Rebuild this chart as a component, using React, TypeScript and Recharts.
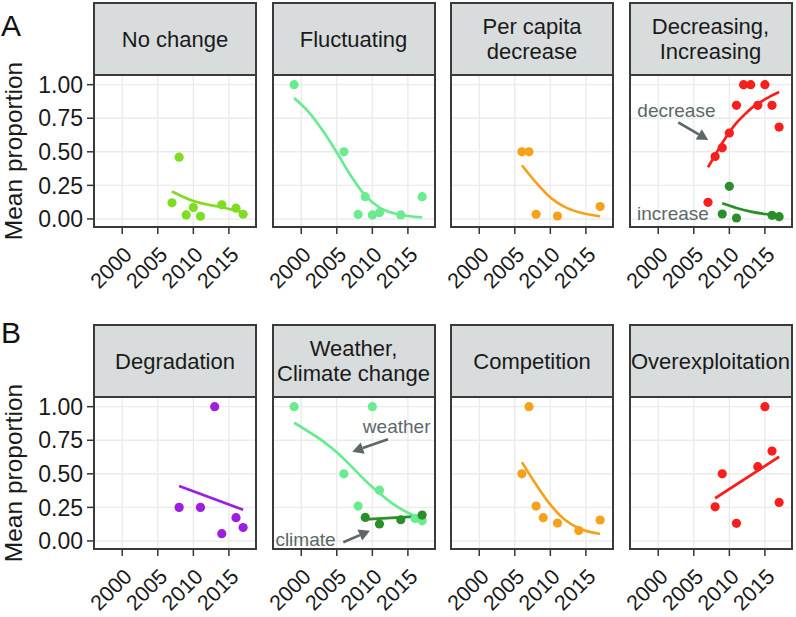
import React from 'react';
import { ComposedChart, Scatter, Line, XAxis, YAxis, CartesianGrid, ReferenceLine, ReferenceDot } from 'recharts';

type Pt = { year: number; value: number };

const yearTicks = [2000, 2005, 2010, 2015];
const proportionTicks = [0, 0.25, 0.5, 0.75, 1];

// A: population trend groups
const noChangePoints: Pt[] = [
  { year: 2007, value: 0.12 }, { year: 2008, value: 0.46 }, { year: 2009, value: 0.03 },
  { year: 2010, value: 0.085 }, { year: 2011, value: 0.02 }, { year: 2014, value: 0.105 },
  { year: 2016, value: 0.08 }, { year: 2017, value: 0.035 },
];
const noChangeFit: Pt[] = [
  { year: 2007, value: 0.205 }, { year: 2010, value: 0.133 }, { year: 2014, value: 0.087 }, { year: 2017, value: 0.05 },
];

const fluctuatingPoints: Pt[] = [
  { year: 1999, value: 1.0 }, { year: 2006, value: 0.5 }, { year: 2008, value: 0.034 },
  { year: 2009, value: 0.166 }, { year: 2010, value: 0.03 }, { year: 2011, value: 0.047 },
  { year: 2014, value: 0.03 }, { year: 2017, value: 0.166 },
];
const fluctuatingFit: Pt[] = [
  { year: 1999, value: 0.9 }, { year: 2001, value: 0.8 }, { year: 2003, value: 0.66 },
  { year: 2005, value: 0.495 }, { year: 2007, value: 0.32 }, { year: 2009, value: 0.175 },
  { year: 2011, value: 0.085 }, { year: 2013, value: 0.043 }, { year: 2015, value: 0.022 }, { year: 2017, value: 0.012 },
];

const perCapitaPoints: Pt[] = [
  { year: 2006, value: 0.5 }, { year: 2007, value: 0.5 }, { year: 2008, value: 0.035 },
  { year: 2011, value: 0.022 }, { year: 2017, value: 0.092 },
];
const perCapitaFit: Pt[] = [
  { year: 2006, value: 0.4 }, { year: 2008, value: 0.27 }, { year: 2010, value: 0.16 },
  { year: 2012, value: 0.09 }, { year: 2014, value: 0.05 }, { year: 2017, value: 0.02 },
];

const decreasingPoints: Pt[] = [
  { year: 2007, value: 0.124 }, { year: 2008, value: 0.465 }, { year: 2009, value: 0.53 },
  { year: 2010, value: 0.64 }, { year: 2011, value: 0.846 }, { year: 2012, value: 1.0 },
  { year: 2013, value: 1.0 }, { year: 2014, value: 0.846 }, { year: 2015, value: 1.0 },
  { year: 2016, value: 0.846 }, { year: 2017, value: 0.684 },
];
const decreasingFit: Pt[] = [
  { year: 2007, value: 0.385 }, { year: 2008, value: 0.475 }, { year: 2009, value: 0.565 },
  { year: 2010, value: 0.646 }, { year: 2011, value: 0.715 }, { year: 2012, value: 0.77 },
  { year: 2013, value: 0.82 }, { year: 2014, value: 0.858 }, { year: 2015, value: 0.89 },
  { year: 2016, value: 0.92 }, { year: 2017, value: 0.945 },
];

const increasingPoints: Pt[] = [
  { year: 2009, value: 0.037 }, { year: 2010, value: 0.243 }, { year: 2011, value: 0.007 },
  { year: 2016, value: 0.027 }, { year: 2017, value: 0.017 },
];
const increasingFit: Pt[] = [
  { year: 2009, value: 0.117 }, { year: 2011, value: 0.082 }, { year: 2013, value: 0.055 },
  { year: 2015, value: 0.037 }, { year: 2017, value: 0.025 },
];

// B: drivers
const degradationPoints: Pt[] = [
  { year: 2008, value: 0.25 }, { year: 2011, value: 0.25 }, { year: 2013, value: 1.0 },
  { year: 2014, value: 0.054 }, { year: 2016, value: 0.173 }, { year: 2017, value: 0.1 },
];
const degradationFit: Pt[] = [{ year: 2008, value: 0.41 }, { year: 2017, value: 0.232 }];

const weatherPoints: Pt[] = [
  { year: 1999, value: 1.0 }, { year: 2006, value: 0.5 }, { year: 2008, value: 0.26 },
  { year: 2010, value: 1.0 }, { year: 2011, value: 0.378 }, { year: 2016, value: 0.168 }, { year: 2017, value: 0.15 },
];
const weatherFit: Pt[] = [
  { year: 1999, value: 0.88 }, { year: 2001, value: 0.815 }, { year: 2003, value: 0.745 },
  { year: 2005, value: 0.66 }, { year: 2007, value: 0.558 }, { year: 2009, value: 0.45 },
  { year: 2011, value: 0.355 }, { year: 2013, value: 0.272 }, { year: 2015, value: 0.21 }, { year: 2017, value: 0.165 },
];

const climatePoints: Pt[] = [
  { year: 2009, value: 0.175 }, { year: 2011, value: 0.126 }, { year: 2014, value: 0.158 }, { year: 2017, value: 0.193 },
];
const climateFit: Pt[] = [{ year: 2009, value: 0.16 }, { year: 2017, value: 0.185 }];

const competitionPoints: Pt[] = [
  { year: 2006, value: 0.5 }, { year: 2007, value: 1.0 }, { year: 2008, value: 0.26 },
  { year: 2009, value: 0.173 }, { year: 2011, value: 0.133 }, { year: 2014, value: 0.077 }, { year: 2017, value: 0.156 },
];
const competitionFit: Pt[] = [
  { year: 2006, value: 0.587 }, { year: 2008, value: 0.42 }, { year: 2010, value: 0.27 },
  { year: 2012, value: 0.16 }, { year: 2014, value: 0.095 }, { year: 2016, value: 0.062 }, { year: 2017, value: 0.052 },
];

const overexploitationPoints: Pt[] = [
  { year: 2008, value: 0.254 }, { year: 2009, value: 0.5 }, { year: 2011, value: 0.131 },
  { year: 2014, value: 0.553 }, { year: 2015, value: 1.0 }, { year: 2016, value: 0.669 }, { year: 2017, value: 0.287 },
];
const overexploitationFit: Pt[] = [{ year: 2008, value: 0.318 }, { year: 2017, value: 0.627 }];

// annotations (data coords)
const decreaseNote = { text: 'decrease', year: 2002.56, value: 0.811 };
const increaseNote = { text: 'increase', year: 2002.07, value: 0.044 };
const decreaseArrow = { from: { year: 2002.81, value: 0.72 }, to: { year: 2007.03, value: 0.588 } };
const weatherNote = { text: 'weather', year: 2013.42, value: 0.856 };
const climateNote = { text: 'climate', year: 2000.6, value: 0.015 };
const weatherArrow = { from: { year: 2012.2, value: 0.757 }, to: { year: 2007.18, value: 0.665 } };
const climateArrow = { from: { year: 2005.92, value: -0.01 }, to: { year: 2009.66, value: 0.076 } };

const LIME = '#80dc22';
const MINT = '#6aeb8f';
const ORANGE = '#f6a11c';
const RED = '#f91e1e';
const DKGREEN = '#2a8e2a';
const PURPLE = '#9a1fe0';
const NOTE = '#5c6769';

const X_DOMAIN: [number, number] = [1996.03, 2018.81];
const Y_DOMAIN: [number, number] = [-0.06, 1.072];
const PLOT_LEFT = [94, 272.5, 451, 629.5];
const ROW_TOP = [75, 397];
const PLOT_W = 162;
const PLOT_H = 152;
const STRIP_H = 73;
const Y_AXIS_W = 94;
const SIDE_PAD = 16;
const X_AXIS_H = 85;
const PAD_TOP = 12;
const FONT = '"Liberation Sans", Arial, sans-serif';

type Series = { points: Pt[]; fit: Pt[]; color: string };
type Note = { text: string; year: number; value: number };
type Arrow = { from: Pt; to: Pt };
type PanelDef = { row: number; col: number; title: string[]; series: Series[]; notes?: Note[]; arrows?: Arrow[] };

const panels: PanelDef[] = [
  { row: 0, col: 0, title: ['No change'], series: [{ points: noChangePoints, fit: noChangeFit, color: LIME }] },
  { row: 0, col: 1, title: ['Fluctuating'], series: [{ points: fluctuatingPoints, fit: fluctuatingFit, color: MINT }] },
  { row: 0, col: 2, title: ['Per capita', 'decrease'], series: [{ points: perCapitaPoints, fit: perCapitaFit, color: ORANGE }] },
  {
    row: 0, col: 3, title: ['Decreasing,', 'Increasing'],
    series: [
      { points: decreasingPoints, fit: decreasingFit, color: RED },
      { points: increasingPoints, fit: increasingFit, color: DKGREEN },
    ],
    notes: [decreaseNote, increaseNote], arrows: [decreaseArrow],
  },
  { row: 1, col: 0, title: ['Degradation'], series: [{ points: degradationPoints, fit: degradationFit, color: PURPLE }] },
  {
    row: 1, col: 1, title: ['Weather,', 'Climate change'],
    series: [
      { points: weatherPoints, fit: weatherFit, color: MINT },
      { points: climatePoints, fit: climateFit, color: DKGREEN },
    ],
    notes: [weatherNote, climateNote], arrows: [weatherArrow, climateArrow],
  },
  { row: 1, col: 2, title: ['Competition'], series: [{ points: competitionPoints, fit: competitionFit, color: ORANGE }] },
  { row: 1, col: 3, title: ['Overexploitation'], series: [{ points: overexploitationPoints, fit: overexploitationFit, color: RED }] },
];

// rotated 45deg labels, top-right corner at the tick (ggplot hjust = vjust = 1)
const XTick = (props: any) => {
  const { x, y, payload } = props;
  return (
    <g transform={`translate(${x},${y + 9}) rotate(-45)`}>
      <text x={0} y={0} dy="0.72em" textAnchor="end" fontSize={21.5} fill="#1a1a1a" fontFamily={FONT}>
        {payload.value}
      </text>
    </g>
  );
};

const arrowShape = (p: any) => {
  const { x1, y1, x2, y2 } = p;
  const ang = Math.atan2(y2 - y1, x2 - x1);
  const len = 11;
  const half = 6;
  const bx = x2 - len * Math.cos(ang);
  const by = y2 - len * Math.sin(ang);
  const nx = -Math.sin(ang) * half;
  const ny = Math.cos(ang) * half;
  return (
    <g>
      <line x1={x1} y1={y1} x2={bx} y2={by} stroke={NOTE} strokeWidth={2.6} />
      <polygon points={`${x2},${y2} ${bx + nx},${by + ny} ${bx - nx},${by - ny}`} fill={NOTE} />
    </g>
  );
};

function Panel({ def }: { def: PanelDef }) {
  const left = PLOT_LEFT[def.col];
  const top = ROW_TOP[def.row];
  const showY = def.col === 0;
  // hidden y axes still get a little room so the slanted year labels are not clipped
  const padLeft = showY ? Y_AXIS_W : SIDE_PAD;
  return (
    <>
      <div
        style={{
          position: 'absolute', left: left - 1, top: top - STRIP_H, width: PLOT_W + 2, height: STRIP_H + 1,
          boxSizing: 'border-box', border: '2px solid #3a3a3a', background: '#d9dcdc',
          display: 'flex', flexDirection: 'column', alignItems: 'center', justifyContent: 'center',
          fontSize: 22, lineHeight: '25px', color: '#1a1a1a', fontFamily: FONT,
        }}
      >
        {def.title.map((t) => <div key={t}>{t}</div>)}
      </div>
      <div style={{ position: 'absolute', left: left - padLeft, top: top - PAD_TOP }}>
        <ComposedChart
          width={PLOT_W + padLeft} height={PLOT_H + X_AXIS_H + PAD_TOP}
          margin={{ top: PAD_TOP, right: 0, bottom: 0, left: showY ? 0 : SIDE_PAD }}
        >
          <CartesianGrid stroke="#ebebeb" strokeWidth={1.4} />
          <XAxis
            type="number" dataKey="year" domain={X_DOMAIN} ticks={yearTicks} allowDataOverflow interval={0}
            height={X_AXIS_H} axisLine={false} tickSize={7} tickLine={{ stroke: '#333', strokeWidth: 1.5 }}
            tick={<XTick />}
          />
          <YAxis
            type="number" dataKey="value" domain={Y_DOMAIN} ticks={proportionTicks} allowDataOverflow interval={0}
            hide={!showY} width={Y_AXIS_W} axisLine={false} tickSize={7} tickMargin={4}
            tickLine={{ stroke: '#333', strokeWidth: 1.5 }}
            tick={{ fontSize: 23, fill: '#1a1a1a', fontFamily: FONT }}
            tickFormatter={(v: number) => v.toFixed(2)}
          />
          {def.series.map((s, i) => (
            <Scatter
              key={'p' + i} data={s.points} fill={s.color} isAnimationActive={false}
              shape={(p: any) => <circle cx={p.cx} cy={p.cy} r={4.6} fill={s.color} />}
            />
          ))}
          {def.series.map((s, i) => (
            <Line
              key={'l' + i} data={s.fit} dataKey="value" type="monotone" stroke={s.color} strokeWidth={2.7}
              dot={false} activeDot={false} isAnimationActive={false}
            />
          ))}
          {(def.arrows || []).map((a, i) => (
            <ReferenceLine
              key={'a' + i} ifOverflow="visible" shape={arrowShape}
              segment={[{ x: a.from.year, y: a.from.value }, { x: a.to.year, y: a.to.value }]}
            />
          ))}
          {(def.notes || []).map((n) => (
            <ReferenceDot
              key={n.text} x={n.year} y={n.value} ifOverflow="visible"
              shape={(p: any) => (
                <text x={p.cx} y={p.cy} dy="0.36em" textAnchor="middle" fontSize={19} fill={NOTE} fontFamily={FONT}>
                  {n.text}
                </text>
              )}
            />
          ))}
        </ComposedChart>
      </div>
      <div
        style={{
          position: 'absolute', left: left - 1, top: top - 1, width: PLOT_W + 2, height: PLOT_H + 2,
          boxSizing: 'border-box', border: '2px solid #3a3a3a', pointerEvents: 'none',
        }}
      />
    </>
  );
}

export default function App() {
  return (
    <div style={{ position: 'absolute', left: 0, top: 0, width: 796, height: 617, background: '#fff', fontFamily: FONT }}>
      <svg width={796} height={617} style={{ position: 'absolute', left: 0, top: 0 }}>
        <text x={1} y={36} fontSize={30} fill="#111" fontFamily={FONT}>A</text>
        <text x={1} y={343} fontSize={30} fill="#111" fontFamily={FONT}>B</text>
        {ROW_TOP.map((t) => (
          <text
            key={t} x={22} y={t + PLOT_H / 2} fontSize={24.5} fill="#1a1a1a" fontFamily={FONT}
            textAnchor="middle" transform={`rotate(-90 22 ${t + PLOT_H / 2})`}
          >
            Mean proportion
          </text>
        ))}
      </svg>
      {panels.map((d) => <Panel key={d.title.join()} def={d} />)}
    </div>
  );
}
